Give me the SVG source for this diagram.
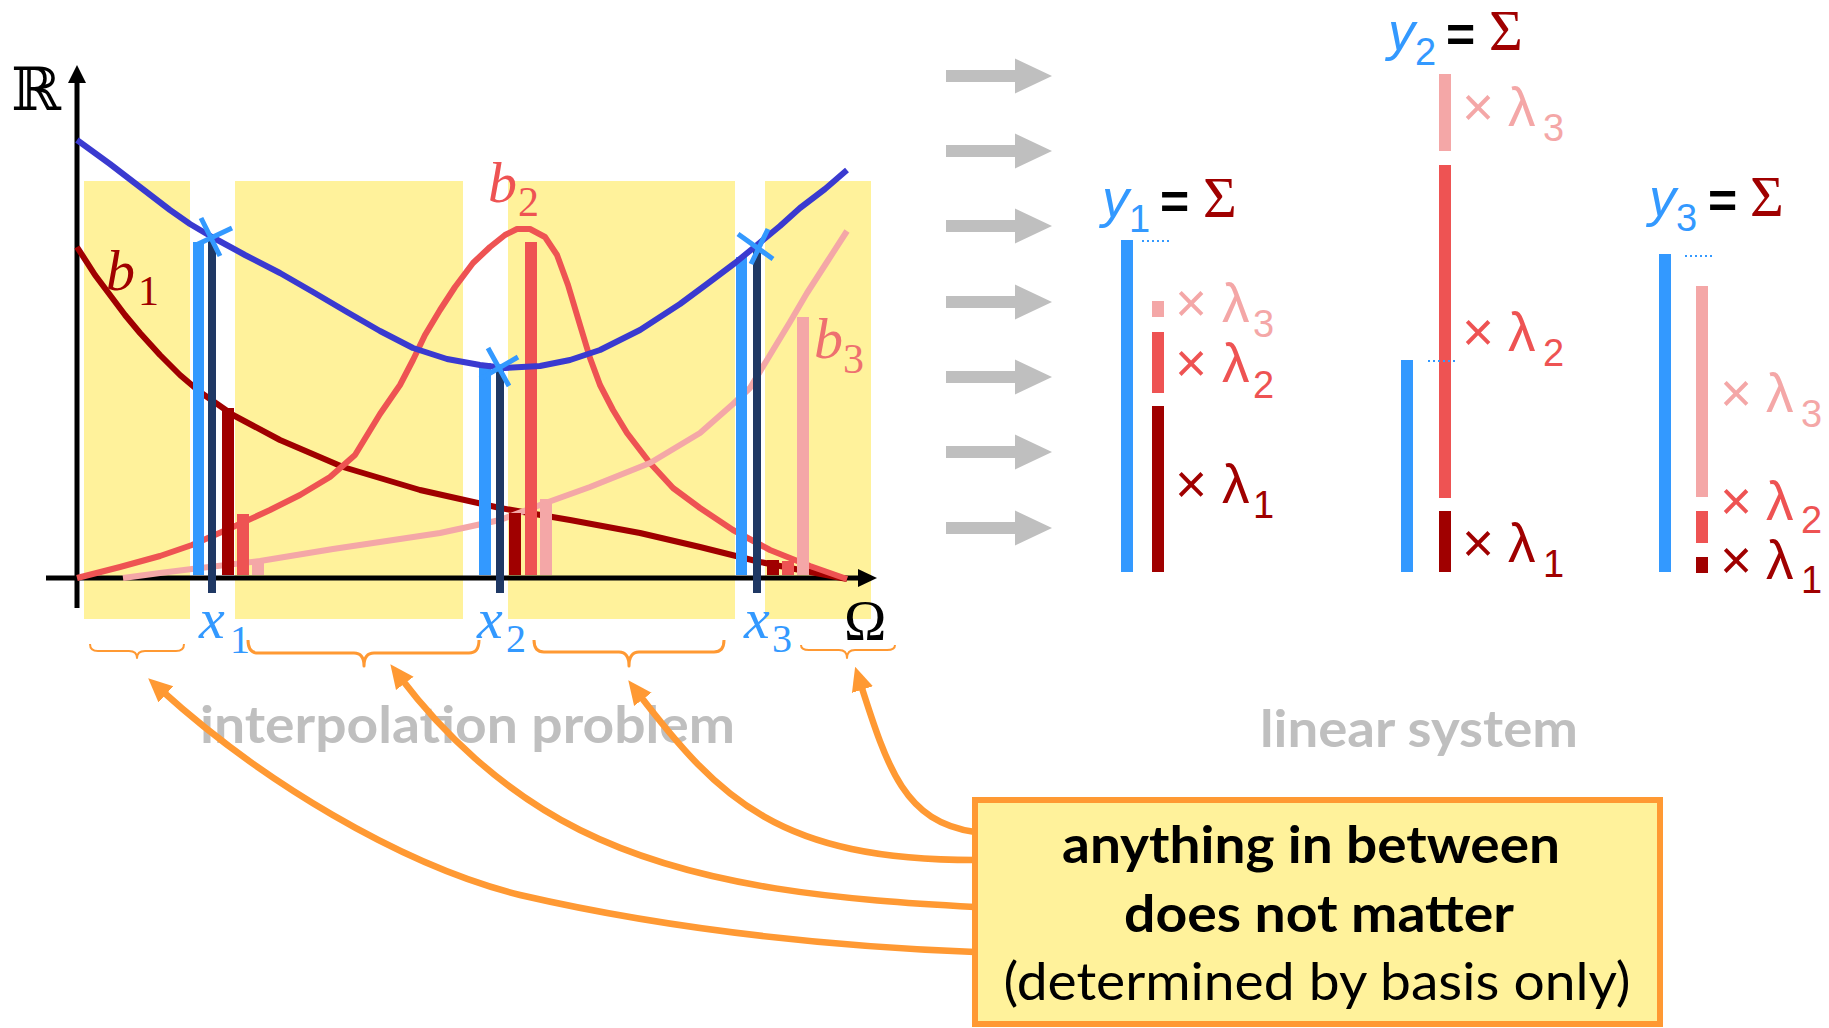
<svg xmlns="http://www.w3.org/2000/svg" width="1829" height="1028" viewBox="0 0 1829 1028">
<defs>
<style>
.yl{fill:#FFF29B}
.crv{fill:none;stroke-width:6;stroke-linejoin:round}
.ax{stroke:#000;stroke-width:5;fill:none}
.c-blue{fill:#3399FF}
.c-navy{fill:#1F3864}
.c-dr{fill:#A00000}
.c-r{fill:#EE5353}
.c-p{fill:#F4A7A7}
.cross{stroke:#3399FF;stroke-width:5;fill:none}
.brace{fill:none;stroke:#FF9933;stroke-linejoin:round}
.conn{fill:none;stroke:#FF9933;stroke-width:6.5;marker-end:url(#oa)}
.mi{font-family:"Liberation Serif","DejaVu Serif",serif;font-style:italic}
.sr{font-family:"Liberation Serif","DejaVu Serif",serif}
.ss{font-family:"Liberation Sans",Arial,sans-serif}
.lam{font-family:"Liberation Sans",Arial,sans-serif;font-size:55px}
.sub{font-size:38px}
.gray{font-family:Lato,"Liberation Sans",sans-serif;font-weight:700;fill:#BFBFBF;font-size:52px}
.box{font-family:Lato,"Liberation Sans",sans-serif;font-size:52px;fill:#000}
.dot{stroke:#3399FF;stroke-width:2;stroke-dasharray:2 3;fill:none}
</style>
<marker id="oa" markerUnits="userSpaceOnUse" markerWidth="24" markerHeight="24" viewBox="0 0 24 24" refX="8" refY="12" orient="auto">
<path d="M0,1 L24,12 L0,23 Z" fill="#FF9933"/>
</marker>
<path id="garr" d="M0,-6 L69,-6 L69,-17.5 L106,0 L69,17.5 L69,6 L0,6 Z" fill="#BFBFBF"/>
</defs>
<rect width="1829" height="1028" fill="#fff"/>

<g id="plot">
<g id="regions">
<rect class="yl" x="84" y="181" width="106" height="438"/>
<rect class="yl" x="235" y="181" width="228" height="438"/>
<rect class="yl" x="508" y="181" width="227" height="438"/>
<rect class="yl" x="765" y="181" width="106" height="438"/>
</g>
<g id="axes">
<line class="ax" x1="46" y1="578" x2="860" y2="578"/>
<path d="M858,569 L877,578 L858,587 Z" fill="#000"/>
<line class="ax" x1="77" y1="608" x2="77" y2="80"/>
<path d="M68,83 L77,65 L86,83 Z" fill="#000"/>
</g>
<g id="basis-curves">
<path class="crv" stroke="#A00000" d="M77,247 L95,275 L110,295 L125,315 L140,333 L160,355 L180,375 L200,392 L233,415 L280,440 L343,467 L420,490 L500,508 L570,520 L640,533 L700,547 L760,562 L800,570 L847,579"/>
<path class="crv" stroke="#EE5353" d="M77,578 L120,567 L160,556 L192,545 L233,527 L270,510 L300,495 L330,477 L355,455 L380,414 L400,385 L413,360 L425,335 L440,310 L455,287 L473,263 L490,247 L505,235 L517,229 L530,229 L545,237 L557,255 L568,285 L580,325 L590,358 L600,385 L613,410 L627,433 L650,463 L673,488 L700,508 L733,530 L770,550 L810,566 L847,579"/>
<path class="crv" stroke="#F4A7A7" d="M123,578 L160,573 L192,569 L260,561 L333,549 L400,539 L440,533 L500,520 L540,505 L590,487 L650,463 L700,433 L733,404 L750,388 L773,350 L790,322 L807,293 L827,262 L847,231"/>
</g>
<g id="bars">
<rect class="c-blue" x="193" y="242" width="11" height="333"/>
<rect class="c-dr" x="222" y="408" width="12" height="167"/>
<rect class="c-r" x="237" y="514" width="12" height="61"/>
<rect class="c-p" x="252" y="562" width="12" height="13"/>
<rect class="c-blue" x="479" y="363" width="12" height="212"/>
<rect class="c-dr" x="509" y="513" width="12" height="62"/>
<rect class="c-r" x="525" y="242" width="12" height="333"/>
<rect class="c-p" x="540" y="499" width="12" height="76"/>
<rect class="c-blue" x="736" y="257" width="11" height="318"/>
<rect class="c-dr" x="767" y="560" width="12" height="15"/>
<rect class="c-r" x="782" y="561" width="12" height="14"/>
<rect class="c-p" x="797" y="317" width="12" height="258"/>
<rect class="c-navy" x="208" y="237" width="8" height="356"/>
<rect class="c-navy" x="496" y="367" width="8" height="226"/>
<rect class="c-navy" x="753" y="246" width="8" height="347"/>
</g>
<path id="interpolant" class="crv" stroke="#3A3AD0" d="M77,140 L110,164 L140,187 L170,210 L190,224 L212,237 L245,255 L280,273 L313,292 L347,312 L380,331 L413,348 L447,359 L480,365 L505,368 L540,366 L570,360 L600,350 L640,330 L680,304 L707,284 L735,263 L757,245 L780,226 L800,208 L825,189 L847,170"/>
<g id="crosses">
<path class="cross" d="M201,218 L220,256 M196,245 L232,228"/>
<path class="cross" d="M488,348 L509,386 M480,379 L518,357"/>
<path class="cross" d="M738,234 L773,259 M751,264 L768,229"/>
</g>
<g id="labels">
<text class="sr" x="11" y="110" font-size="60" font-family="DejaVu Serif,serif">ℝ</text>
<text class="mi" x="106" y="290" font-size="58" fill="#A00000">b<tspan x="138" y="305" font-size="42" font-style="normal">1</tspan></text>
<text class="mi" x="488" y="202" font-size="58" fill="#EE5353">b<tspan x="518" y="216" font-size="42" font-style="normal">2</tspan></text>
<text class="mi" x="814" y="358" font-size="58" fill="#EE7070">b<tspan x="843" y="373" font-size="42" font-style="normal">3</tspan></text>
<text class="mi" x="199" y="638" font-size="58" fill="#3399FF">x<tspan x="230" y="653" font-size="40" font-style="normal">1</tspan></text>
<text class="mi" x="477" y="638" font-size="58" fill="#3399FF">x<tspan x="506" y="652" font-size="40" font-style="normal">2</tspan></text>
<text class="mi" x="744" y="638" font-size="58" fill="#3399FF">x<tspan x="772" y="652" font-size="40" font-style="normal">3</tspan></text>
<text class="sr" x="844" y="640" font-size="57" fill="#000">Ω</text>
</g>
<g id="braces">
<path class="brace" stroke-width="2" d="M90,644 Q90,651 98,651 L129,651 Q137,651 137,658 Q137,651 145,651 L176,651 Q184,651 184,644"/>
<path class="brace" stroke-width="3" d="M248,640 Q248,653 258,653 L354,653 Q364,653 364,666 Q364,653 374,653 L469,653 Q479,653 479,640"/>
<path class="brace" stroke-width="3" d="M534,640 Q534,652 544,652 L619,652 Q629,652 629,666 Q629,652 639,652 L714,652 Q724,652 724,640"/>
<path class="brace" stroke-width="2" d="M801,645 Q801,650 809,650 L839,650 Q847,650 847,658 Q847,650 855,650 L887,650 Q895,650 895,645"/>
</g>
</g>

<text id="interp-title" class="gray" x="200" y="743" textLength="535" lengthAdjust="spacingAndGlyphs">interpolation problem</text>
<text id="linsys-title" class="gray" x="1260" y="747" textLength="318" lengthAdjust="spacingAndGlyphs">linear system</text>

<g id="gray-arrows">
<use href="#garr" x="946" y="76"/>
<use href="#garr" x="946" y="151"/>
<use href="#garr" x="946" y="226"/>
<use href="#garr" x="946" y="302"/>
<use href="#garr" x="946" y="377"/>
<use href="#garr" x="946" y="452"/>
<use href="#garr" x="946" y="528"/>
</g>

<g id="eq1">
<text class="ss" x="1102" y="217" font-size="54" font-style="italic" fill="#3399FF">y<tspan x="1129" y="232" font-size="38" font-style="normal">1</tspan></text>
<text class="ss" x="1160" y="219" font-size="50" font-weight="700" fill="#000">=</text>
<text class="sr" x="1203" y="217" font-size="58" fill="#A00000">Σ</text>
<rect class="c-blue" x="1121" y="240" width="12" height="332"/>
<rect class="c-p" x="1152" y="301" width="12" height="16"/>
<rect class="c-r" x="1152" y="332" width="12" height="61"/>
<rect class="c-dr" x="1152" y="406" width="12" height="166"/>
<line class="dot" x1="1142" y1="241" x2="1171" y2="241"/>
<text class="lam" x="1175" y="322" fill="#F4A7A7">×<tspan x="1222">λ</tspan><tspan class="sub" x="1253" y="337">3</tspan></text>
<text class="lam" x="1175" y="382" fill="#EE5353">×<tspan x="1222">λ</tspan><tspan class="sub" x="1253" y="398">2</tspan></text>
<text class="lam" x="1175" y="503" fill="#A00000">×<tspan x="1222">λ</tspan><tspan class="sub" x="1253" y="518">1</tspan></text>
</g>

<g id="eq2">
<text class="ss" x="1388" y="50" font-size="54" font-style="italic" fill="#3399FF">y<tspan x="1415" y="65" font-size="38" font-style="normal">2</tspan></text>
<text class="ss" x="1446" y="52" font-size="50" font-weight="700" fill="#000">=</text>
<text class="sr" x="1489" y="50" font-size="58" fill="#A00000">Σ</text>
<rect class="c-blue" x="1401" y="360" width="12" height="212"/>
<rect class="c-p" x="1439" y="74" width="12" height="77"/>
<rect class="c-r" x="1439" y="165" width="12" height="333"/>
<rect class="c-dr" x="1439" y="511" width="12" height="61"/>
<line class="dot" x1="1428" y1="361" x2="1457" y2="361"/>
<text class="lam" x="1462" y="126" fill="#F4A7A7">×<tspan x="1508">λ</tspan><tspan class="sub" x="1543" y="141">3</tspan></text>
<text class="lam" x="1462" y="351" fill="#EE5353">×<tspan x="1508">λ</tspan><tspan class="sub" x="1543" y="366">2</tspan></text>
<text class="lam" x="1462" y="562" fill="#A00000">×<tspan x="1508">λ</tspan><tspan class="sub" x="1543" y="577">1</tspan></text>
</g>

<g id="eq3">
<text class="ss" x="1649" y="216" font-size="54" font-style="italic" fill="#3399FF">y<tspan x="1676" y="231" font-size="38" font-style="normal">3</tspan></text>
<text class="ss" x="1708" y="218" font-size="50" font-weight="700" fill="#000">=</text>
<text class="sr" x="1750" y="216" font-size="58" fill="#A00000">Σ</text>
<rect class="c-blue" x="1659" y="254" width="12" height="318"/>
<rect class="c-p" x="1696" y="286" width="12" height="211"/>
<rect class="c-r" x="1696" y="511" width="12" height="32"/>
<rect class="c-dr" x="1696" y="557" width="12" height="16"/>
<line class="dot" x1="1685" y1="256" x2="1715" y2="256"/>
<text class="lam" x="1720" y="412" fill="#F4A7A7">×<tspan x="1766">λ</tspan><tspan class="sub" x="1801" y="427">3</tspan></text>
<text class="lam" x="1720" y="520" fill="#EE5353">×<tspan x="1766">λ</tspan><tspan class="sub" x="1801" y="533">2</tspan></text>
<text class="lam" x="1720" y="579" fill="#A00000">×<tspan x="1766">λ</tspan><tspan class="sub" x="1801" y="593">1</tspan></text>
</g>

<g id="connectors">
<path class="conn" d="M975,832 C905,822 888,770 860,682"/>
<path class="conn" d="M975,860 C780,860 720,800 638,693"/>
<path class="conn" d="M975,907 C850,900 700,890 580,830 C500,790 440,730 400,677"/>
<path class="conn" d="M975,952 C800,945 650,925 520,895 C400,865 260,780 160,689"/>
</g>

<g id="note-box">
<rect x="975" y="800" width="685" height="224" fill="#FFF29B" stroke="#FF9933" stroke-width="6"/>
<text class="box" x="1311" y="863" text-anchor="middle" font-weight="700" textLength="498" lengthAdjust="spacingAndGlyphs">anything in between</text>
<text class="box" x="1319" y="932" text-anchor="middle" font-weight="700" textLength="390" lengthAdjust="spacingAndGlyphs">does not matter</text>
<text class="box" x="1317" y="1000" text-anchor="middle" textLength="627" lengthAdjust="spacingAndGlyphs">(determined by basis only)</text>
</g>
</svg>
